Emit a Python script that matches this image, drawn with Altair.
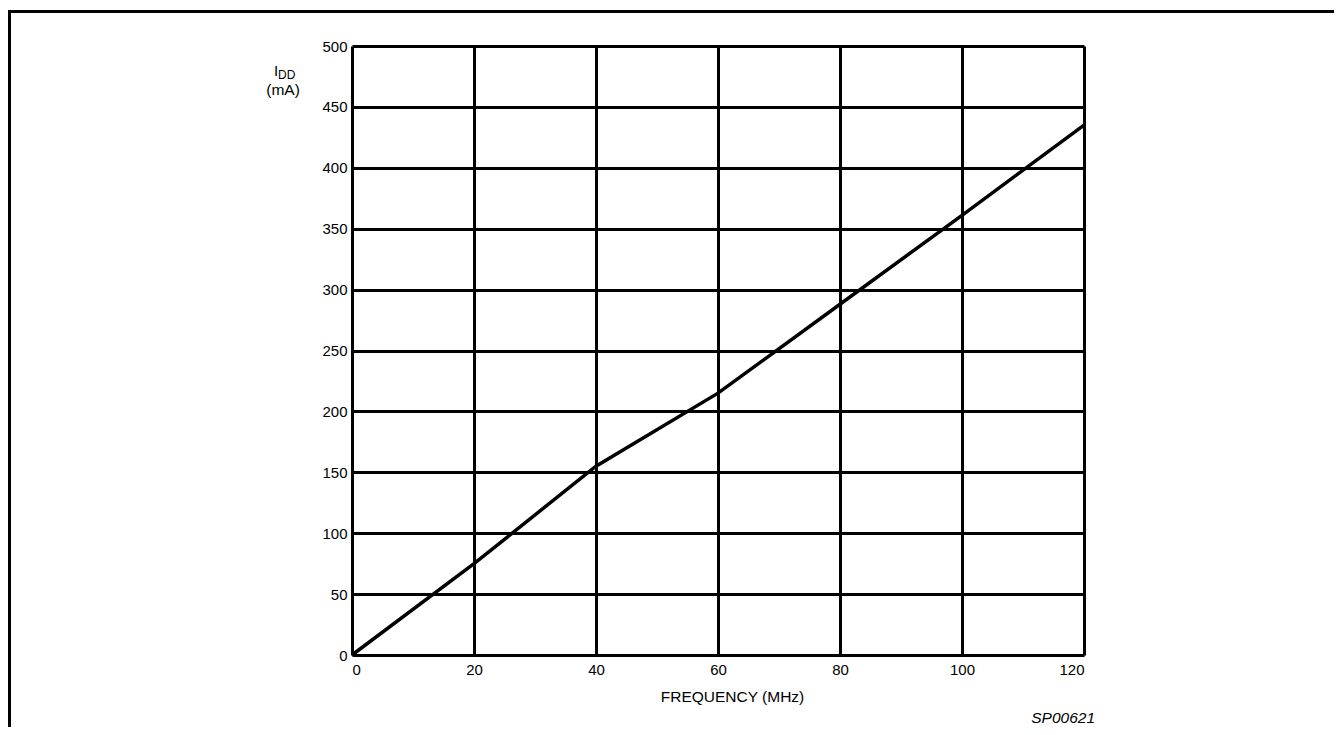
import altair as alt
import pandas as pd

freq = [0, 20, 40, 60, 80, 100, 120]
idd = [0, 75, 155, 215, 288, 361, 435]
x_ticks = [0, 20, 40, 60, 80, 100, 120]
y_ticks = [0, 50, 100, 150, 200, 250, 300, 350, 400, 450, 500]

FONT = "Liberation Sans"
W, H = 732, 609

df = pd.DataFrame({"freq": freq, "idd": idd})

base = alt.Chart(df)

line = base.mark_line(color="black", strokeWidth=3.5).encode(
    x=alt.X("freq:Q", scale=alt.Scale(domain=[0, 120], nice=False),
            axis=alt.Axis(values=x_ticks, title="FREQUENCY (MHz)", grid=True,
                          gridColor="black", gridWidth=3, gridOpacity=1,
                          domain=False, ticks=False, labelPadding=7,
                          labelFont=FONT, labelFontSize=15, labelColor="black",
                          titleFont=FONT, titleFontSize=15.5, titleFontWeight="normal",
                          titleColor="black", titleX=380, titleY=41,
                          titleBaseline="middle", titleAnchor="middle", titleAlign="center")),
    y=alt.Y("idd:Q", scale=alt.Scale(domain=[0, 500], nice=False),
            axis=alt.Axis(values=y_ticks, title=None, grid=True,
                          gridColor="black", gridWidth=3, gridOpacity=1,
                          domain=False, ticks=False, labelPadding=5,
                          labelFont=FONT, labelFontSize=15, labelColor="black")),
)

one = pd.DataFrame({"k": [0]})

def txt(s, x, y, size=14, align="left", baseline="alphabetic", style="normal"):
    return alt.Chart(one).mark_text(text=s, font=FONT, fontSize=size, align=align,
                                    baseline=baseline, fontStyle=style, color="black").encode(
        x=alt.value(x), y=alt.value(y))

label_I = txt("I", -78, 30, 15)
label_DD = txt("DD", -74, 32.5, 12)
label_mA = txt("(mA)", -69, 43.5, 15.5, align="center", baseline="middle")
sp = txt("SP00621", 743, 672, 15.5, align="right", baseline="middle", style="italic")

frame_top = alt.Chart(one).mark_rule(color="black", strokeWidth=3).encode(
    x=alt.value(-344), x2=alt.value(1000), y=alt.value(-34.5))
frame_left = alt.Chart(one).mark_rule(color="black", strokeWidth=3).encode(
    x=alt.value(-342.5), y=alt.value(-36), y2=alt.value(700))

chart = alt.layer(line, label_I, label_DD, label_mA, sp, frame_top, frame_left).properties(
    width=W, height=H,
    autosize=alt.AutoSizeParams(type="none"),
    padding={"left": 344, "top": 38, "right": 250, "bottom": 72},
).configure_view(stroke="black", strokeWidth=3).configure(background="white")

chart.save("out.html", embed_options={"renderer": "svg", "actions": False})
